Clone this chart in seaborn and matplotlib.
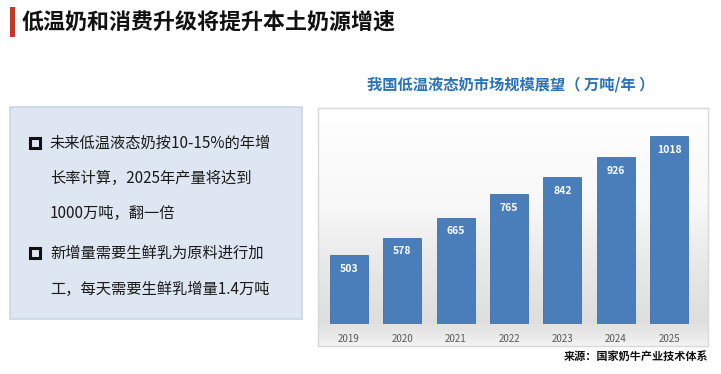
import numpy as np
import matplotlib
matplotlib.use("Agg")
import matplotlib.pyplot as plt
from matplotlib.patches import Rectangle
from matplotlib.colors import LinearSegmentedColormap
import seaborn as sns

# ── data ──
years = ["2019", "2020", "2021", "2022", "2023", "2024", "2025"]
volumes = [503, 578, 665, 765, 842, 926, 1018]

page_title = "低温奶和消费升级将提升本土奶源增速"
chart_title = "我国低温液态奶市场规模展望（ 万吨/年 ）"
source_note = "来源：国家奶牛产业技术体系"
bullet_lines = [
    ["未来低温液态奶按10-15%的年增", "长率计算，2025年产量将达到", "1000万吨，翻一倍"],
    ["新增量需要生鲜乳为原料进行加", "工，每天需要生鲜乳增量1.4万吨"],
]

sns.set_style("white")
plt.rcParams["font.family"] = ["Noto Sans CJK SC", "DejaVu Sans"]

W, H = 721, 374
fig = plt.figure(figsize=(W / 100, H / 100), dpi=100)
fig.patch.set_facecolor("white")


def fx(x):
    return x / W


def fy(y):
    return 1 - y / H


# ── page header ──
fig.patches.append(Rectangle((fx(10), fy(37)), fx(5), 30 / H, transform=fig.transFigure,
                             facecolor="#c0392b", edgecolor="none"))
fig.text(fx(22), fy(22), page_title, fontsize=15.8, fontweight="bold",
         color="#111111", ha="left", va="center")

# ── left text box ──
fig.patches.append(Rectangle((fx(10), fy(319)), fx(292), 212 / H, transform=fig.transFigure,
                             facecolor="#dde6f1", edgecolor="#c9d6e8", linewidth=1.2))
line_y = [[143, 178, 213], [253, 289]]
for lines, ys in zip(bullet_lines, line_y):
    fig.patches.append(Rectangle((fx(30), fy(ys[0] + 5)), fx(10), 10 / H,
                                 transform=fig.transFigure, facecolor="none",
                                 edgecolor="#111111", linewidth=2.2))
    for txt, y in zip(lines, ys):
        fig.text(fx(50), fy(y), txt, fontsize=11, color="#1a1a1a",
                 ha="left", va="center", fontweight="medium")

# ── chart panel background ──
bg = fig.add_axes([fx(318), fy(346), fx(390), 238 / H])
grad = LinearSegmentedColormap.from_list(
    "bg", [(0, "#f3f3f3"), (0.1, "#dedede"), (0.3, "#e6e6e6"), (0.6, "#f8f8f8"), (1, "#ffffff")])
bg.imshow(np.linspace(0, 1, 256).reshape(-1, 1), cmap=grad, aspect="auto",
          extent=(0, 1, 0, 1), origin="lower")
bg.set_xticks([])
bg.set_yticks([])
for s in bg.spines.values():
    s.set_color("#d9d9d9")
    s.set_linewidth(1)

fig.text(fx(511), fy(85), chart_title, fontsize=11, fontweight="bold",
         color="#2a73b8", ha="center", va="center")

# ── bars ──
ax = fig.add_axes([fx(322), fy(324), fx(374), 216 / H])
ax.patch.set_alpha(0)
sns.barplot(x=years, y=volumes, color="#4a7ebb", saturation=1, width=0.71,
            edgecolor="#3f70aa", linewidth=0.6, ax=ax)
ax.set_ylim(204, 1139)
ax.set_xlim(-0.5, 6.5)
ax.set_xlabel("")
ax.set_ylabel("")
ax.set_yticks([])
ax.tick_params(axis="x", length=0, pad=7, labelsize=7, labelcolor="#595959")
for s in ax.spines.values():
    s.set_visible(False)

for i, v in enumerate(volumes):
    ax.annotate(str(v), (i, v), xytext=(0, -10), textcoords="offset points",
                ha="center", va="center", color="white", fontsize=7.5,
                fontweight="bold")

fig.text(fx(708), fy(356), source_note, fontsize=8, fontweight="bold",
         color="#111111", ha="right", va="center")

fig.savefig("out.png", dpi=100)
